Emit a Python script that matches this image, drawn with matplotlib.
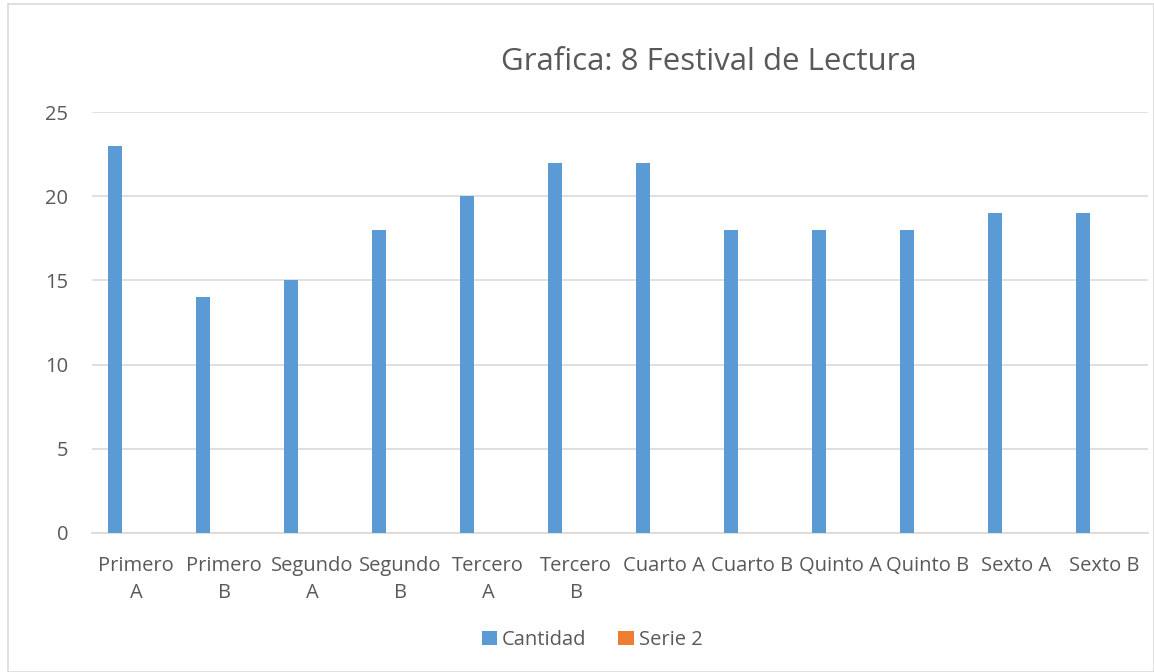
import matplotlib
matplotlib.use("Agg")
import matplotlib.pyplot as plt
import numpy as np
from matplotlib.patches import Rectangle

categories = ["Primero\nA", "Primero\nB", "Segundo\nA", "Segundo\nB", "Tercero\nA", "Tercero\nB",
              "Cuarto A", "Cuarto B", "Quinto A", "Quinto B", "Sexto A", "Sexto B"]
cantidad = [23, 14, 15, 18, 20, 22, 22, 18, 18, 18, 19, 19]
serie2 = [np.nan] * 12
title = "Grafica: 8 Festival de Lectura"

plt.rcParams['font.family'] = ['Open Sans', 'DejaVu Sans']
txt = "#595959"
grid = "#d9d9d9"

fig = plt.figure(figsize=(11.54, 6.72), dpi=100)
fig.patches.append(Rectangle((8/1154, 0), 1 - 8/1154 - 0.5/1154, 1 - 4/672, transform=fig.transFigure,
                             fill=False, edgecolor=grid, linewidth=1.2))
ax = fig.add_axes([92/1154, 1 - 533/672, (1148-92)/1154, (533-112)/672])

x = np.arange(len(categories))
ax.bar(x - 0.235, cantidad, width=0.16, color="#5b9bd5", label="Cantidad", zorder=3)
ax.bar(x + 0.0, serie2, width=0.16, color="#ed7d31", label="Serie 2", zorder=3)

ax.set_xlim(-0.5, len(categories) - 0.5)
ax.set_ylim(0, 25)
ax.set_yticks([0, 5, 10, 15, 20, 25])
ax.set_xticks(x)
ax.set_xticklabels(categories, linespacing=1.5)
ax.grid(axis="y", color=grid, linewidth=1.2, zorder=0)
for s in ["top", "right", "left"]:
    ax.spines[s].set_visible(False)
ax.spines["bottom"].set_color(grid)
ax.spines["bottom"].set_linewidth(1.2)
ax.tick_params(axis="both", length=0, labelsize=14.5, colors=txt)
ax.tick_params(axis="x", pad=16.5)
ax.tick_params(axis="y", pad=17)

fig.text(709/1154, 1 - 62/672, title, ha="center", va="center", fontsize=22.5, color=txt)
leg = fig.legend(loc="center", bbox_to_anchor=(592/1154, 1 - 640/672), ncol=2, frameon=False,
                 fontsize=14.5, handlelength=0.75, handleheight=0.75, handletextpad=0.25, columnspacing=1.6)
for t in leg.get_texts():
    t.set_color(txt)

fig.savefig("out.png", dpi=100)
